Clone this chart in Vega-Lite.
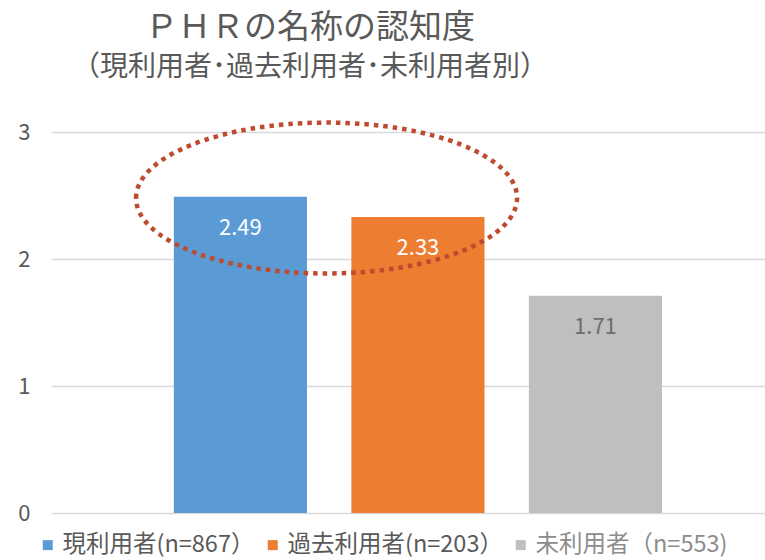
{
  "$schema": "https://vega.github.io/schema/vega-lite/v6.json",
  "width": 714,
  "height": 381,
  "autosize": {"type": "none"},
  "padding": {"left": 51, "top": 132, "right": 0, "bottom": 47},
  "background": "white",
  "config": {"view": {"stroke": null}, "font": "Noto Sans CJK JP"},
  "title": {
    "text": "ＰＨＲの名称の認知度",
    "subtitle": "（現利用者･過去利用者･未利用者別）",
    "anchor": "middle",
    "frame": "group",
    "dx": -98,
    "offset": 32,
    "fontSize": 33,
    "fontWeight": "normal",
    "color": "#595959",
    "subtitleFontSize": 28,
    "subtitleColor": "#595959",
    "subtitlePadding": 9,
    "font": "Noto Sans CJK JP",
    "subtitleFont": "Noto Sans CJK JP"
  },
  "data": {
    "values": [
      {"group": "現利用者(n=867）", "value": 2.49},
      {"group": "過去利用者(n=203）", "value": 2.33},
      {"group": "未利用者（n=553)", "value": 1.71}
    ]
  },
  "layer": [
    {
      "mark": {"type": "bar"},
      "encoding": {
        "x": {
          "field": "group",
          "type": "nominal",
          "sort": null,
          "axis": null,
          "scale": {
            "domain": ["現利用者(n=867）", "過去利用者(n=203）", "未利用者（n=553)"],
            "paddingInner": 0.25,
            "paddingOuter": 0.636,
            "align": 0.544
          }
        },
        "y": {
          "field": "value",
          "type": "quantitative",
          "scale": {"domain": [0, 3], "nice": false},
          "axis": {
            "values": [0, 1, 2, 3],
            "format": "d",
            "title": null,
            "domain": false,
            "ticks": false,
            "grid": true,
            "gridColor": "#D9D9D9",
            "gridWidth": 1.5,
            "labelFontSize": 22,
            "labelColor": "#595959",
            "labelPadding": 21,
            "labelFont": "Noto Sans CJK JP"
          }
        },
        "color": {
          "field": "group",
          "type": "nominal",
          "sort": null,
          "scale": {
            "domain": ["現利用者(n=867）", "過去利用者(n=203）", "未利用者（n=553)"],
            "range": ["#5B9BD5", "#ED7D31", "#BFBFBF"]
          },
          "legend": {
            "title": null,
            "orient": "none",
            "direction": "horizontal",
            "legendX": -15,
            "legendY": 401,
            "padding": 0,
            "symbolType": "square",
            "symbolSize": 100,
            "symbolStrokeWidth": 0,
            "symbolOpacity": 1,
            "labelFontSize": 23.5,
            "labelColor": "#595959",
            "labelOffset": 3,
            "columnPadding": 6,
            "labelLimit": 400,
            "labelFont": "Noto Sans CJK JP",
            "encode": {
              "labels": {
                "update": {
                  "fill": {"signal": "datum.value === '未利用者（n=553)' ? '#8C8C8C' : '#595959'"}
                }
              }
            }
          }
        }
      }
    },
    {
      "mark": {"type": "text", "dy": 31, "baseline": "middle", "align": "center", "fontSize": 22, "font": "Noto Sans CJK JP"},
      "encoding": {
        "x": {"field": "group", "type": "nominal", "sort": null},
        "y": {"field": "value", "type": "quantitative"},
        "text": {"field": "value", "type": "quantitative", "format": ".2f"},
        "color": {
          "condition": {"test": "datum.group === '未利用者（n=553)'", "value": "#6E6E6E"},
          "value": "#FFFFFF"
        }
      }
    },
    {
      "data": {"values": [{"target": "現利用者(n=867）", "center": 2.48}]},
      "mark": {
        "type": "point",
        "shape": "M-1,0A1,0.396 0 1,1 1,0A1,0.396 0 1,1 -1,0Z",
        "size": 145161,
        "filled": false,
        "stroke": "#BE4B2E",
        "strokeWidth": 4.5,
        "strokeDash": [4.5, 5],
        "opacity": 1
      },
      "encoding": {
        "x": {"field": "target", "type": "nominal", "sort": null, "bandPosition": 1.147},
        "y": {"field": "center", "type": "quantitative"}
      }
    }
  ]
}
